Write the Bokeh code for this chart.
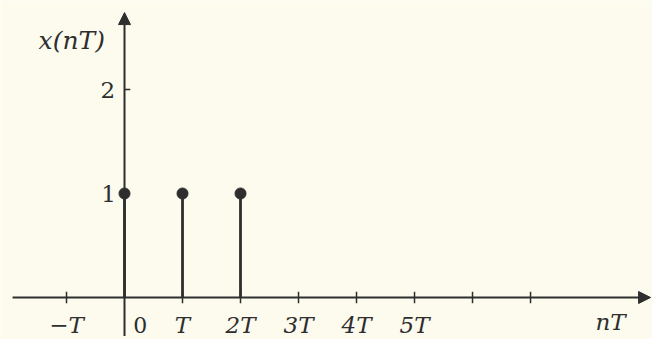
from bokeh.plotting import figure
from bokeh.models import Range1d, Arrow, NormalHead
from bokeh.core.properties import value
from bokeh.embed import file_html
from bokeh.resources import INLINE

# data (n in units of T)
n_samples = [0, 1, 2]
x_samples = [1, 1, 1]
x_ticks = [-1, 1, 2, 3, 4, 5, 6, 7]
x_tick_label_pos = [-1, 1, 2, 3, 4, 5]
x_tick_labels = ["\u2212T", "T", "2T", "3T", "4T", "5T"]
y_tick_marks = [2]
y_tick_label_pos = [1, 2]
y_tick_labels = ["1", "2"]

INK = "#2e2e2e"
BG = "#fcfbee"
FONT = value("DejaVu Serif")

p = figure(width=652, height=339, x_range=Range1d(-2.138, 9.103), y_range=Range1d(-0.404, 2.856),
           output_backend="svg", toolbar_location=None, min_border=0,
           x_axis_type=None, y_axis_type=None)
p.grid.visible = False
p.outline_line_color = None
p.background_fill_color = BG
p.border_fill_color = BG

# axes with arrows
p.add_layout(Arrow(end=NormalHead(size=12, fill_color=INK, line_color=INK),
                   x_start=-1.93, y_start=0, x_end=9.07, y_end=0,
                   line_width=2, line_color=INK))
p.add_layout(Arrow(end=NormalHead(size=12, fill_color=INK, line_color=INK),
                   x_start=0, y_start=-0.37, x_end=0, y_end=2.74,
                   line_width=2, line_color=INK))

# tick marks
p.segment(x0=x_ticks, y0=[-0.055] * len(x_ticks), x1=x_ticks, y1=[0.055] * len(x_ticks),
          line_color=INK, line_width=1.5)
p.segment(x0=[0] * len(y_tick_marks), y0=y_tick_marks, x1=[0.1] * len(y_tick_marks), y1=y_tick_marks,
          line_color=INK, line_width=1.5)

# stems
p.segment(x0=n_samples, y0=[0] * len(n_samples), x1=n_samples, y1=x_samples,
          line_color=INK, line_width=2.8)
p.scatter(n_samples, x_samples, size=11, fill_color=INK, line_color=INK)

# tick labels
p.text(x=x_tick_label_pos, y=[-0.268] * len(x_tick_label_pos), text=x_tick_labels,
       text_font=FONT, text_font_style="italic", text_font_size="23px",
       text_align="center", text_baseline="middle", text_color=INK)
p.text(x=[0.15], y=[-0.268], text=["0"], text_font=FONT, text_font_size="22px",
       text_align="left", text_baseline="middle", text_color=INK)
p.text(x=[-0.15, -0.16], y=y_tick_label_pos, text=y_tick_labels,
       text_font=FONT, text_font_size="23px", text_align="right", text_baseline="middle",
       text_color=INK)

# axis titles
p.text(x=[-0.91], y=[2.471], text=["x(nT)"], text_font=FONT, text_font_style="italic",
       text_font_size="25px", text_align="center", text_baseline="middle", text_color=INK)
p.text(x=[8.38], y=[-0.231], text=["nT"], text_font=FONT, text_font_style="italic",
       text_font_size="23px", text_align="center", text_baseline="middle", text_color=INK)

open("out.html", "w").write(file_html(p, INLINE))
